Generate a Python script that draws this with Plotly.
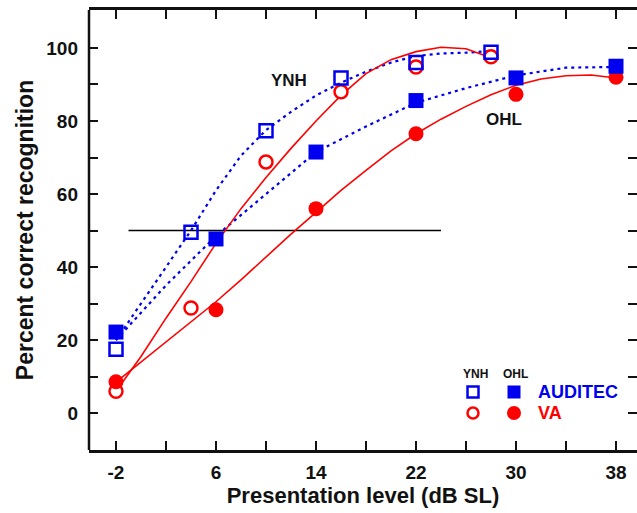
import plotly.graph_objects as go

# ---- data ----
levels_auditec_ynh = [-2, 4, 10, 16, 22, 28]
auditec_ynh = [17.5, 49.5, 77.3, 91.8, 96.0, 98.8]
levels_va_ynh = [-2, 4, 10, 16, 22, 28]
va_ynh = [6.0, 28.8, 68.8, 88.0, 94.8, 97.6]
levels_ohl = [-2, 6, 14, 22, 30, 38]
auditec_ohl = [22.2, 47.7, 71.5, 85.6, 91.8, 95.0]
va_ohl = [8.6, 28.3, 56.0, 76.5, 87.3, 92.0]

# fitted curves
fit_auditec_ynh_x = [-2, 0, 2, 4, 6, 8, 10, 12, 14, 16, 18, 20, 22, 24, 26, 28]
fit_auditec_ynh_y = [20, 30, 40, 50, 61, 70.5, 77.5, 82.5, 87, 90.5, 93.5, 96, 97.8, 98.5, 98.7, 99.2]
fit_auditec_ohl_x = [-2, 2, 6, 10, 14, 18, 22, 26, 30, 34, 38]
fit_auditec_ohl_y = [20, 35, 48.5, 60, 71.5, 78.5, 85, 89, 92.5, 94.6, 94.8]
fit_va_ynh_x = [-2, 0, 2, 4, 6, 8, 10, 12, 14, 16, 18, 20, 22, 24, 26, 28]
fit_va_ynh_y = [6, 15.5, 26, 36, 46.5, 56, 64.5, 72.5, 80, 87, 93, 96.8, 99, 100.2, 99.8, 97.3]
fit_va_ohl_x = [-2, 0, 2, 4, 6, 8, 10, 12, 14, 16, 18, 20, 22, 24, 26, 28, 30, 32, 34, 36, 38]
fit_va_ohl_y = [8.5, 14, 19.5, 25, 30.5, 36.5, 42.8, 49, 55, 61, 66.5, 71.8, 76.5, 80.5, 84, 87.2, 89.8, 91.5, 92.4, 92.6, 91.8]

ref_x = [-1, 24]
ref_y = [50, 50]

x_ticks = [-2, 2, 6, 10, 14, 18, 22, 26, 30, 34, 38]
x_tick_labels = ["-2", "", "6", "", "14", "", "22", "", "30", "", "38"]
y_ticks = [0, 10, 20, 30, 40, 50, 60, 70, 80, 90, 100]
y_tick_labels = ["0", "", "20", "", "40", "", "60", "", "80", "", "100"]

BLUE = "#0000f0"
RED = "#ff0000"
FONT = "Liberation Sans"

fig = go.Figure()

# reference line at 50 %
fig.add_trace(go.Scatter(x=ref_x, y=ref_y, mode="lines",
                         line=dict(color="black", width=1.5), hoverinfo="skip"))

# fitted curves
fig.add_trace(go.Scatter(x=fit_auditec_ynh_x, y=fit_auditec_ynh_y, mode="lines",
                         line=dict(color=BLUE, width=2.2, dash="3px,4px")))
fig.add_trace(go.Scatter(x=fit_auditec_ohl_x, y=fit_auditec_ohl_y, mode="lines",
                         line=dict(color=BLUE, width=2.2, dash="3px,4px")))
fig.add_trace(go.Scatter(x=fit_va_ynh_x, y=fit_va_ynh_y, mode="lines",
                         line=dict(color=RED, width=1.6)))
fig.add_trace(go.Scatter(x=fit_va_ohl_x, y=fit_va_ohl_y, mode="lines",
                         line=dict(color=RED, width=1.6)))

# data markers
fig.add_trace(go.Scatter(x=levels_va_ynh, y=va_ynh, mode="markers",
                         marker=dict(symbol="circle", size=13, color="white",
                                     line=dict(color=RED, width=2.5))))
fig.add_trace(go.Scatter(x=levels_ohl, y=va_ohl, mode="markers",
                         marker=dict(symbol="circle", size=15, color=RED,
                                     line=dict(color=RED, width=0))))
fig.add_trace(go.Scatter(x=levels_auditec_ynh, y=auditec_ynh, mode="markers",
                         marker=dict(symbol="square", size=13, color="rgba(255,255,255,0)",
                                     line=dict(color=BLUE, width=2.5))))
fig.add_trace(go.Scatter(x=levels_ohl, y=auditec_ohl, mode="markers",
                         marker=dict(symbol="square", size=15, color=BLUE,
                                     line=dict(color=BLUE, width=0))))

# in-plot labels
fig.add_annotation(x=11.8, y=91.2, text="<b>YNH</b>", showarrow=False,
                   xanchor="center", yanchor="middle",
                   font=dict(family=FONT, size=17, color="#111"))
fig.add_annotation(x=29.0, y=80.3, text="<b>OHL</b>", showarrow=False,
                   xanchor="center", yanchor="middle",
                   font=dict(family=FONT, size=17, color="#111"))

# custom legend (paper coordinates)
def px(xpix):
    return (xpix - 89) / 548.0

def py(ypix):
    return 1 - (ypix - 10) / 440.0

shapes = []
def marker_shape(kind, xp, yp, size, fill, line_color, lw):
    shapes.append(dict(type=kind, xref="paper", yref="paper",
                       xsizemode="pixel", ysizemode="pixel",
                       xanchor=px(xp), yanchor=py(yp),
                       x0=-size / 2, x1=size / 2, y0=-size / 2, y1=size / 2,
                       fillcolor=fill, line=dict(color=line_color, width=lw)))

marker_shape("rect", 473, 392, 11, "white", BLUE, 2.5)
marker_shape("rect", 514, 392, 13, BLUE, BLUE, 0)
marker_shape("circle", 473, 413, 11, "white", RED, 2.5)
marker_shape("circle", 514, 413, 14, RED, RED, 0)

# left frame edge (right edge of the frame falls outside the picture)
shapes.append(dict(type="line", xref="paper", yref="paper", x0=0, x1=0, y0=0, y1=1,
                   line=dict(color="#111", width=2.5)))

def legend_text(xp, yp, text, size, color, anchor="center"):
    fig.add_annotation(xref="paper", yref="paper", x=px(xp), y=py(yp), text=text,
                       xanchor=anchor, yanchor="middle", showarrow=False,
                       font=dict(family=FONT, size=size, color=color))

legend_text(475, 374, "<b>YNH</b>", 12, "#111")
legend_text(515, 374, "<b>OHL</b>", 12, "#111")
legend_text(536, 392, "<b>AUDITEC</b>", 18, BLUE, "left")
legend_text(536, 413, "<b>VA</b>", 18, RED, "left")

fig.update_layout(
    width=637, height=513, autosize=False,
    margin=dict(l=89, r=0, t=10, b=63),
    paper_bgcolor="white", plot_bgcolor="white",
    showlegend=False,
    shapes=shapes,
    font=dict(family=FONT, color="#111"),
)

fig.update_xaxes(
    range=[-4.16, 39.68], tickmode="array", tickvals=x_ticks, ticktext=x_tick_labels,
    ticks="inside", ticklen=9, tickwidth=2, tickcolor="#111",
    showline=True, linewidth=2.5, linecolor="#111", mirror="ticks",
    showgrid=False, zeroline=False, ticklabelstandoff=3,
    tickfont=dict(family=FONT, size=19, color="#111", weight="bold"),
    title=dict(text="<b>Presentation level (dB SL)</b>", standoff=6,
               font=dict(family=FONT, size=22, color="#111")),
)
fig.update_yaxes(
    range=[-10.1, 110.4], tickmode="array", tickvals=y_ticks, ticktext=y_tick_labels,
    ticks="inside", ticklen=9, tickwidth=2, tickcolor="#111",
    showline=False, mirror="ticks",
    showgrid=False, zeroline=False, ticklabelstandoff=10,
    tickfont=dict(family=FONT, size=19, color="#111", weight="bold"),
    title=dict(text="<b>Percent correct recognition</b>", standoff=6,
               font=dict(family=FONT, size=23, color="#111")),
)

fig.write_html("out.html")
